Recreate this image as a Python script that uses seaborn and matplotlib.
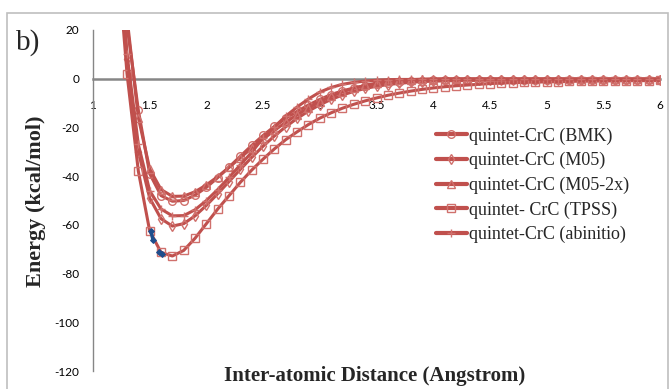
import numpy as np
import pandas as pd
import matplotlib
matplotlib.use("Agg")
import matplotlib.pyplot as plt
from matplotlib.patches import Rectangle
import seaborn as sns

# Inter-atomic distance grid (Angstrom)
distance = [1.2, 1.3, 1.4, 1.5, 1.6, 1.7, 1.8, 1.9, 2.0, 2.1,
            2.2, 2.3, 2.4, 2.5, 2.6, 2.7, 2.8, 2.9, 3.0, 3.1,
            3.2, 3.3, 3.4, 3.5, 3.6, 3.7, 3.8, 3.9, 4.0, 4.1,
            4.2, 4.3, 4.4, 4.5, 4.6, 4.7, 4.8, 4.9, 5.0, 5.1,
            5.2, 5.3, 5.4, 5.5, 5.6, 5.7, 5.8, 5.9, 6.0]

# Potential energy curves (kcal/mol)
bmk = [90, 22, -13, -39, -48.0, -50.3, -50.0, -47.8, -44.6, -40.6,
       -36.3, -31.8, -27.4, -23.3, -19.6, -16.3, -13.4, -10.8, -8.5, -6.5,
       -5.0, -3.8, -2.9, -2.2, -1.7, -1.3, -1.0, -0.8, -0.7, -0.6,
       -0.6, -0.6, -0.5, -0.5, -0.5, -0.5, -0.5, -0.5, -0.5, -0.5,
       -0.5, -0.5, -0.5, -0.5, -0.5, -0.5, -0.5, -0.5, -0.5]
m05 = [70, 8, -30, -49, -57.5, -60.5, -59.5, -56.3, -52.0, -47.2,
       -42.2, -37.2, -32.3, -27.7, -23.5, -19.7, -16.3, -13.3, -10.7, -8.5,
       -6.7, -5.2, -4.0, -3.1, -2.4, -1.9, -1.5, -1.2, -1.0, -0.9,
       -0.8, -0.7, -0.7, -0.6, -0.6, -0.6, -0.6, -0.5, -0.5, -0.5,
       -0.5, -0.5, -0.5, -0.5, -0.5, -0.5, -0.5, -0.5, -0.5]
m05_2x = [95, 25, -16, -37, -45.5, -48.3, -48.2, -46.4, -43.6, -40.2,
          -36.4, -32.4, -28.5, -24.8, -21.2, -17.9, -14.8, -12.0, -9.5, -7.3,
          -5.4, -3.9, -2.7, -1.8, -1.1, -0.7, -0.4, -0.2, -0.1, 0.0,
          0.0, 0.0, 0.0, 0.0, 0.0, 0.0, 0.0, 0.0, 0.0, 0.0,
          0.0, 0.0, 0.0, 0.0, 0.0, 0.0, 0.0, 0.0, 0.0]
tpss = [60, 2, -38, -62.5, -71.3, -72.8, -70.5, -65.5, -59.5, -53.5,
        -48.0, -42.5, -37.5, -33.0, -28.8, -25.0, -21.8, -18.8, -16.2, -14.0,
        -12.1, -10.5, -9.1, -7.9, -6.8, -5.9, -5.1, -4.4, -3.8, -3.3,
        -2.9, -2.6, -2.3, -2.0, -1.8, -1.6, -1.5, -1.4, -1.3, -1.2,
        -1.1, -1.0, -1.0, -0.9, -0.9, -0.8, -0.8, -0.8, -0.7]
abinitio = [75, 10, -27, -46, -53.5, -56.3, -56.2, -53.8, -50.0, -45.5,
            -40.5, -35.3, -30.2, -24.3, -19.7, -15.4, -11.6, -8.3, -5.5, -3.6,
            -2.3, -1.5, -1.0, -0.6, -0.4, -0.3, -0.3, -0.3, -0.2, -0.2,
            -0.2, -0.2, -0.2, -0.2, -0.2, -0.2, -0.2, -0.2, -0.2, -0.2,
            -0.2, -0.2, -0.2, -0.2, -0.2, -0.2, -0.2, -0.2, -0.2]

series_names = ["quintet-CrC (BMK)", "quintet-CrC (M05)", "quintet-CrC (M05-2x)",
                "quintet- CrC (TPSS)", "quintet-CrC (abinitio)"]
series_values = [bmk, m05, m05_2x, tpss, abinitio]
series_markers = ["o", "d", "^", "s", "+"]

# Two short highlighted segments near the TPSS minimum
blue_a_x = [1.51, 1.53]
blue_a_y = [-62.5, -66.3]
blue_b_x = [1.585, 1.605]
blue_b_y = [-71.2, -72.0]

x_ticks = [1, 1.5, 2, 2.5, 3, 3.5, 4, 4.5, 5, 5.5, 6]
x_tick_labels = ["1", "1.5", "2", "2.5", "3", "3.5", "4", "4.5", "5", "5.5", "6"]
y_ticks = [-120, -100, -80, -60, -40, -20, 0, 20]

sns.set_theme(style="white")
plt.rcParams["axes.unicode_minus"] = False
plt.rcParams["font.family"] = ["Lato", "DejaVu Sans"]

RED = "#C0504D"
MARKER_EDGE = "#D0706C"
GRAY = "#868686"

fig = plt.figure(figsize=(6.7, 3.89), dpi=100)
ax = fig.add_axes([93 / 670, 1 - 371 / 389, (660 - 93) / 670, (371 - 30) / 389])

for name, vals, mk in zip(series_names, series_values, series_markers):
    df = pd.DataFrame({"x": distance, "y": vals})
    sns.lineplot(data=df, x="x", y="y", ax=ax, color=RED, lw=2.2,
                 marker=mk, markersize=5.5 if mk != "+" else 6,
                 markerfacecolor="none", markeredgecolor=MARKER_EDGE,
                 markeredgewidth=1.0, label=name, sort=False)

for bx, by in [(blue_a_x, blue_a_y), (blue_b_x, blue_b_y)]:
    sns.lineplot(x=bx, y=by, ax=ax, color="#1F4E8C", lw=2.5, marker="D",
                 markersize=3, markeredgecolor="#1F4E8C", legend=False,
                 sort=False, label="_nolegend_")

ax.set_xlim(1, 6)
ax.set_ylim(-120, 20)
ax.set_xticks(x_ticks)
ax.set_xticklabels(x_tick_labels)
ax.set_yticks(y_ticks)
ax.set_yticklabels([str(v) for v in y_ticks])

ax.spines["top"].set_visible(False)
ax.spines["right"].set_visible(False)
ax.spines["left"].set_color(GRAY)
ax.spines["left"].set_linewidth(1.0)
ax.spines["bottom"].set_position(("data", 0))
ax.spines["bottom"].set_color(GRAY)
ax.spines["bottom"].set_linewidth(1.8)
ax.spines["bottom"].set_zorder(1)

ax.tick_params(axis="both", which="major", direction="out", length=4,
               width=1, color=GRAY, labelsize=8.5, labelcolor="#000000")
ax.tick_params(axis="x", pad=11)
ax.tick_params(axis="y", pad=6)
ax.set_xlabel("")
ax.set_ylabel("")
ax.grid(False)

leg = ax.legend(loc="upper left", bbox_to_anchor=(0.605, 0.7147), frameon=False,
                prop={"family": "Liberation Serif", "size": 13},
                handlelength=1.7, handletextpad=0.15, labelspacing=0.41,
                borderaxespad=0, borderpad=0, numpoints=1)
for h in leg.legend_handles:
    h.set_linewidth(3)

serif = ["Liberation Serif", "DejaVu Serif"]
fig.text(375 / 670, 1 - 376 / 389, "Inter-atomic Distance (Angstrom)",
         ha="center", va="center", fontsize=15, fontweight="bold", family=serif)
fig.text(36 / 670, 1 - 201 / 389, "Energy (kcal/mol)", rotation=90,
         ha="center", va="center", fontsize=16, fontweight="bold", family=serif)
fig.text(16 / 670, 1 - 50 / 389, "b)", ha="left", va="baseline",
         fontsize=21, family=serif)

fig.patches.append(Rectangle((7 / 670, -0.02), (668 - 7) / 670, 1 - 13 / 389 + 0.02,
                             transform=fig.transFigure, fill=False,
                             edgecolor="#BFBFBF", lw=1.2))

fig.savefig("out.png", dpi=100)
